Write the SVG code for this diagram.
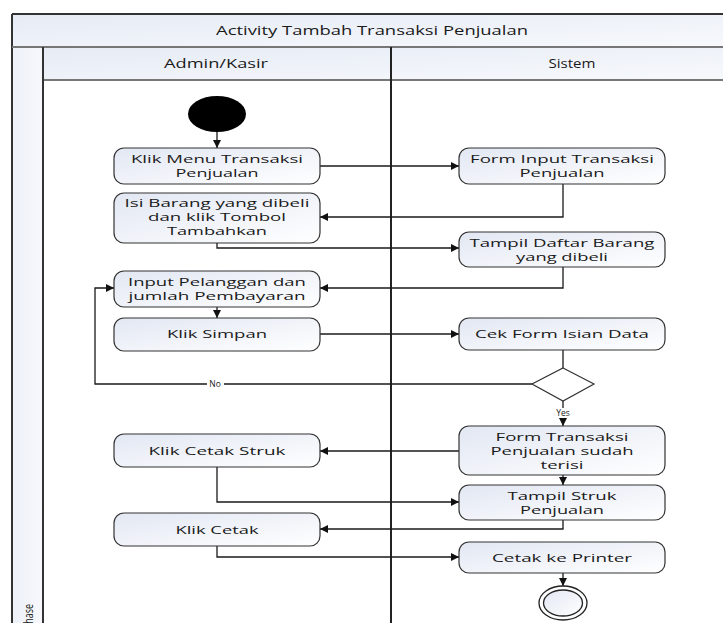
<svg xmlns="http://www.w3.org/2000/svg" width="723" height="623" viewBox="0 0 723 623">
<defs>
<linearGradient id="gBox" x1="0" y1="0" x2="1" y2="1">
<stop offset="0" stop-color="#e2e7f3"/>
<stop offset="1" stop-color="#ffffff"/>
</linearGradient>
<linearGradient id="gHead" x1="0" y1="0" x2="1" y2="1">
<stop offset="0" stop-color="#e6ebf5"/>
<stop offset="1" stop-color="#f7f9fc"/>
</linearGradient>
<linearGradient id="gPhase" x1="0" y1="0" x2="1" y2="0">
<stop offset="0" stop-color="#eef1f8"/>
<stop offset="1" stop-color="#f6f8fc"/>
</linearGradient>
<marker id="arr" viewBox="0 0 10 10" refX="10" refY="5" markerWidth="9" markerHeight="8" markerUnits="userSpaceOnUse" orient="auto">
<path d="M0,0 L10,5 L0,10 z" fill="#111"/>
</marker>
</defs>
<style>
.box{fill:url(#gBox);stroke:#333;stroke-width:1.2}
.t{font-family:"Open Sans","DejaVu Sans",sans-serif;font-size:11px;fill:#1a1a1a;text-anchor:middle}
.h{font-family:"Open Sans","DejaVu Sans",sans-serif;font-size:12px;fill:#1a1a1a;text-anchor:middle}
.c{fill:none;stroke:#1a1a1a;stroke-width:1.3}
.ca{fill:none;stroke:#1a1a1a;stroke-width:1.3;marker-end:url(#arr)}
.lbl{font-family:"Open Sans","DejaVu Sans",sans-serif;font-size:8.5px;fill:#1a1a1a;text-anchor:middle}
</style>
<rect width="723" height="623" fill="#ffffff"/>
<g id="frame">
<rect x="12" y="14" width="720" height="33" fill="url(#gHead)"/>
<rect x="12" y="47" width="31" height="580" fill="url(#gPhase)"/>
<rect x="43" y="47" width="690" height="33" fill="url(#gHead)"/>
<line x1="12" y1="14" x2="723" y2="14" stroke="#333" stroke-width="2"/>
<line x1="12" y1="14" x2="12" y2="623" stroke="#333" stroke-width="2"/>
<line x1="12" y1="47" x2="723" y2="47" stroke="#777" stroke-width="2"/>
<line x1="43" y1="80" x2="723" y2="80" stroke="#777" stroke-width="2"/>
<line x1="43" y1="47" x2="43" y2="623" stroke="#333" stroke-width="2"/>
<line x1="391" y1="47" x2="391" y2="623" stroke="#222" stroke-width="2"/>
<text class="h" x="372" y="35" textLength="312" lengthAdjust="spacingAndGlyphs">Activity Tambah Transaksi Penjualan</text>
<text class="h" x="216" y="68" textLength="104" lengthAdjust="spacingAndGlyphs">Admin/Kasir</text>
<text class="h" x="572" y="68" textLength="47" lengthAdjust="spacingAndGlyphs">Sistem</text>
<text class="h" transform="translate(33,604) rotate(-90)" style="text-anchor:end;font-size:13px" x="0" y="0" textLength="25" lengthAdjust="spacingAndGlyphs">Phase</text>
</g>
<g id="connectors">
<line class="ca" x1="217" y1="131" x2="217" y2="148"/>
<line class="ca" x1="320" y1="166" x2="459" y2="166"/>
<polyline class="ca" points="563,184 563,217 320,217"/>
<polyline class="ca" points="217,243 217,248 459,248"/>
<polyline class="ca" points="563,267 563,288 320,288"/>
<line class="ca" x1="217" y1="307" x2="217" y2="318"/>
<line class="ca" x1="320" y1="334" x2="459" y2="334"/>
<line class="c" x1="563" y1="350" x2="563" y2="368"/>
<polyline class="ca" points="532,384 95,384 95,288 114,288"/>
<line class="ca" x1="563" y1="401" x2="563" y2="426"/>
<line class="ca" x1="459" y1="451" x2="320" y2="451"/>
<line class="ca" x1="563" y1="475" x2="563" y2="485"/>
<polyline class="ca" points="217,467 217,502 459,502"/>
<polyline class="ca" points="563,520 563,529 320,529"/>
<polyline class="ca" points="217,546 217,557 459,557"/>
<line class="ca" x1="563" y1="573" x2="563" y2="586"/>
<rect x="207" y="379" width="17" height="10" fill="#ffffff"/>
<text class="lbl" x="215" y="387">No</text>
<rect x="553" y="408" width="20" height="10" fill="#ffffff"/>
<text class="lbl" x="563" y="416">Yes</text>
</g>
<g id="start"><ellipse cx="217" cy="114" rx="29" ry="18" fill="#000"/></g>
<g id="klikMenu">
<rect class="box" x="114" y="148" width="206" height="36" rx="10"/>
<text class="t" x="217" y="163" textLength="172" lengthAdjust="spacingAndGlyphs">Klik Menu Transaksi</text>
<text class="t" x="217" y="177" textLength="83" lengthAdjust="spacingAndGlyphs">Penjualan</text>
</g>
<g id="isiBarang">
<rect class="box" x="114" y="193" width="206" height="50" rx="10"/>
<text class="t" x="217" y="207" textLength="185" lengthAdjust="spacingAndGlyphs">Isi Barang yang dibeli</text>
<text class="t" x="217" y="221" textLength="138" lengthAdjust="spacingAndGlyphs">dan klik Tombol</text>
<text class="t" x="217" y="235" textLength="100" lengthAdjust="spacingAndGlyphs">Tambahkan</text>
</g>
<g id="inputPelanggan">
<rect class="box" x="114" y="271" width="206" height="36" rx="10"/>
<text class="t" x="217" y="286" textLength="178" lengthAdjust="spacingAndGlyphs">Input Pelanggan dan</text>
<text class="t" x="217" y="300" textLength="177" lengthAdjust="spacingAndGlyphs">jumlah Pembayaran</text>
</g>
<g id="klikSimpan">
<rect class="box" x="114" y="318" width="206" height="33" rx="10"/>
<text class="t" x="217" y="338" textLength="100" lengthAdjust="spacingAndGlyphs">Klik Simpan</text>
</g>
<g id="klikCetakStruk">
<rect class="box" x="114" y="434" width="206" height="33" rx="10"/>
<text class="t" x="217" y="455" textLength="137" lengthAdjust="spacingAndGlyphs">Klik Cetak Struk</text>
</g>
<g id="klikCetak">
<rect class="box" x="114" y="513" width="206" height="33" rx="10"/>
<text class="t" x="217" y="534" textLength="83" lengthAdjust="spacingAndGlyphs">Klik Cetak</text>
</g>
<g id="formInput">
<rect class="box" x="459" y="148" width="206" height="36" rx="10"/>
<text class="t" x="562" y="163" textLength="184" lengthAdjust="spacingAndGlyphs">Form Input Transaksi</text>
<text class="t" x="562" y="177" textLength="85" lengthAdjust="spacingAndGlyphs">Penjualan</text>
</g>
<g id="tampilDaftar">
<rect class="box" x="459" y="232" width="206" height="35" rx="10"/>
<text class="t" x="562" y="247" textLength="185" lengthAdjust="spacingAndGlyphs">Tampil Daftar Barang</text>
<text class="t" x="562" y="261" textLength="92" lengthAdjust="spacingAndGlyphs">yang dibeli</text>
</g>
<g id="cekForm">
<rect class="box" x="459" y="318" width="206" height="32" rx="10"/>
<text class="t" x="562" y="338" textLength="174" lengthAdjust="spacingAndGlyphs">Cek Form Isian Data</text>
</g>
<g id="decision">
<polygon points="563,368 594,384 563,401 532,384" fill="#ffffff" stroke="#333" stroke-width="1.2"/>
</g>
<g id="formTransaksi">
<rect class="box" x="459" y="426" width="206" height="49" rx="10"/>
<text class="t" x="562" y="441" textLength="133" lengthAdjust="spacingAndGlyphs">Form Transaksi</text>
<text class="t" x="562" y="455" textLength="143" lengthAdjust="spacingAndGlyphs">Penjualan sudah</text>
<text class="t" x="562" y="469" textLength="43" lengthAdjust="spacingAndGlyphs">terisi</text>
</g>
<g id="tampilStruk">
<rect class="box" x="459" y="485" width="206" height="35" rx="10"/>
<text class="t" x="562" y="500" textLength="109" lengthAdjust="spacingAndGlyphs">Tampil Struk</text>
<text class="t" x="562" y="514" textLength="84" lengthAdjust="spacingAndGlyphs">Penjualan</text>
</g>
<g id="cetakPrinter">
<rect class="box" x="459" y="542" width="206" height="31" rx="10"/>
<text class="t" x="562" y="562" textLength="140" lengthAdjust="spacingAndGlyphs">Cetak ke Printer</text>
</g>
<g id="end">
<ellipse cx="563" cy="603" rx="24" ry="17" fill="#ffffff" stroke="#222" stroke-width="1.3"/>
<ellipse cx="563" cy="603" rx="19.5" ry="13" fill="url(#gBox)" stroke="#222" stroke-width="1.3"/>
</g>
</svg>
